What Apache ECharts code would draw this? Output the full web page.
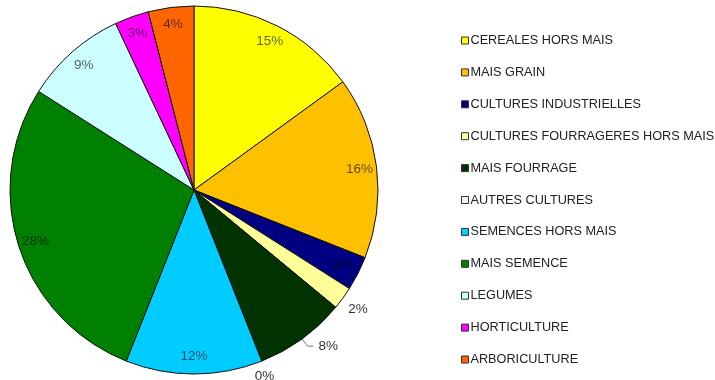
<!DOCTYPE html>
<html>
<head>
<meta charset="utf-8">
<script src="https://cdn.jsdelivr.net/npm/echarts@6/dist/echarts.min.js"></script>
<style>
  html, body { margin: 0; padding: 0; background: #ffffff; }
  #chart { width: 715px; height: 380px; }
</style>
</head>
<body>
<div id="chart"></div>
<script>
// Crop categories, clockwise from 12 o'clock
const categories = [
  'CEREALES HORS MAIS',
  'MAIS GRAIN',
  'CULTURES INDUSTRIELLES',
  'CULTURES FOURRAGERES HORS MAIS',
  'MAIS FOURRAGE',
  'AUTRES CULTURES',
  'SEMENCES HORS MAIS',
  'MAIS SEMENCE',
  'LEGUMES',
  'HORTICULTURE',
  'ARBORICULTURE'
];
// Share of each category (%)
const shares = [15, 16, 3, 2, 8, 0, 12, 28, 9, 3, 4];
// Slice colours
const colors = [
  '#FFFF00', '#FFC000', '#000080', '#FFFF99', '#003300', '#F2F2F2',
  '#00CCFF', '#008000', '#CCFFFF', '#FF00FF', '#FF6600'
];
// Categories whose label sits outside the disc
const outsideLabels = ['CULTURES FOURRAGERES HORS MAIS', 'MAIS FOURRAGE', 'AUTRES CULTURES'];

const CX = 194, CY = 190, R = 184;
const FONT = '"Liberation Sans", Arial, sans-serif';

const sliceData = categories.map((name, i) => ({
  name,
  value: shares[i],
  itemStyle: { color: colors[i] }
}));

// Transparent ring carrying the percentage labels near the rim
const labelData = categories.map((name, i) => {
  const outside = outsideLabels.includes(name);
  const withLine = name === 'MAIS FOURRAGE';
  return {
    name,
    value: shares[i],
    label: {
      position: outside ? 'outside' : 'inside',
      color: outside ? '#333333' : 'rgba(0,0,0,0.62)'
    },
    labelLine: {
      show: withLine,
      length: withLine ? 9 : 3,
      length2: withLine ? 6 : 1,
      lineStyle: { color: '#777777', width: 1 }
    }
  };
});

// Small nudges for the outside labels without a leader line
function nudgeLabel(params) {
  const name = categories[params.dataIndex];
  if (params.seriesIndex !== 1) return {};
  if (name === 'CULTURES FOURRAGERES HORS MAIS') return { dx: -3, dy: 9 };
  if (name === 'AUTRES CULTURES') return { dx: -14, dy: 12 };
  return {};
}

const chart = echarts.init(document.getElementById('chart'), null, { renderer: 'canvas' });
chart.setOption({
  animation: false,
  backgroundColor: '#ffffff',
  legend: {
    orient: 'vertical',
    left: 456,
    top: 29,
    itemWidth: 7,
    itemHeight: 7,
    itemGap: 18.9,
    icon: 'rect',
    itemStyle: { borderColor: '#333333', borderWidth: 1 },
    textStyle: { fontFamily: FONT, fontSize: 12.7, color: '#222222', padding: [0, 0, 0, -3] },
    data: categories
  },
  series: [
    {
      type: 'pie',
      center: [CX, CY],
      radius: [0, R],
      startAngle: 90,
      clockwise: true,
      silent: true,
      label: { show: false },
      labelLine: { show: false },
      itemStyle: { borderColor: '#111111', borderWidth: 1 },
      emphasis: { disabled: true },
      data: sliceData
    },
    {
      type: 'pie',
      center: [CX, CY],
      radius: [R * 0.78, R],
      startAngle: 90,
      clockwise: true,
      silent: true,
      itemStyle: { color: 'rgba(0,0,0,0)', borderWidth: 0 },
      emphasis: { disabled: true },
      label: {
        show: true,
        formatter: '{c}%',
        fontFamily: FONT,
        fontSize: 13.5
      },
      labelLayout: nudgeLabel,
      data: labelData
    }
  ]
});
</script>
</body>
</html>
